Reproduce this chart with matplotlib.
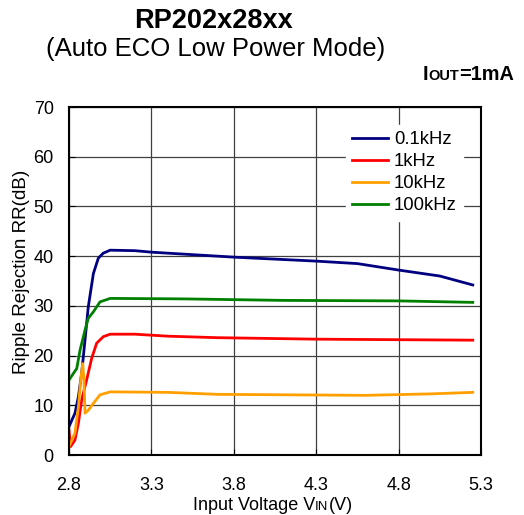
import matplotlib
matplotlib.use('Agg')
import matplotlib.pyplot as plt

plt.rcParams['font.family'] = ['Liberation Sans', 'DejaVu Sans']

# --- data ---
v_01k = [2.80, 2.836, 2.857, 2.877, 2.897, 2.917, 2.948, 2.978, 3.008, 3.05, 3.20,
         3.30, 3.55, 3.80, 4.05, 4.30, 4.55, 4.80, 5.05, 5.25]
rr_01k = [5.7, 8.4, 11.7, 16.5, 23.1, 29.8, 36.5, 39.6, 40.6, 41.2, 41.1,
          40.8, 40.3, 39.8, 39.4, 39.0, 38.5, 37.2, 36.0, 34.2]

v_1k = [2.80, 2.81, 2.836, 2.857, 2.877, 2.907, 2.938, 2.968, 3.008, 3.05, 3.20,
        3.40, 3.70, 4.30, 5.25]
rr_1k = [5.0, 1.7, 3.0, 6.4, 11.1, 15.1, 19.5, 22.5, 23.8, 24.3, 24.3,
         23.9, 23.6, 23.3, 23.1]

v_10k = [2.80, 2.836, 2.857, 2.871, 2.883, 2.891, 2.897, 2.917, 2.948, 2.988, 3.05,
         3.40, 3.70, 4.60, 5.00, 5.25]
rr_10k = [1.7, 4.4, 9.7, 15.1, 18.4, 15.1, 8.4, 9.0, 10.4, 12.1, 12.7,
          12.6, 12.2, 12.0, 12.3, 12.6]

v_100k = [2.80, 2.847, 2.867, 2.897, 2.917, 2.948, 2.988, 3.05, 3.50, 4.10, 4.80, 5.25]
rr_100k = [15.1, 17.4, 21.1, 25.1, 27.5, 28.8, 30.8, 31.5, 31.4, 31.1, 31.0, 30.7]

series = [
    ('0.1kHz', v_01k, rr_01k, '#000080'),
    ('1kHz', v_1k, rr_1k, '#ff0000'),
    ('10kHz', v_10k, rr_10k, '#ffa000'),
    ('100kHz', v_100k, rr_100k, '#008000'),
]

fig = plt.figure(figsize=(5.24, 5.15), dpi=100)
ax = fig.add_axes([69 / 524, 1 - 455 / 515, 412 / 524, 348 / 515])

for label, xs, ys, color in series:
    ax.plot(xs, ys, color=color, lw=2.0, label=label)

ax.set_xlim(2.8, 5.3)
ax.set_ylim(0, 70)
ax.set_xticks([2.8, 3.3, 3.8, 4.3, 4.8, 5.3])
ax.set_yticks(range(0, 71, 10))
ax.tick_params(labelsize=13, direction='in', length=4)
ax.tick_params(axis='x', pad=16)
ax.tick_params(axis='y', pad=11)
ax.grid(True, color='#404040', lw=0.9)
ax.set_axisbelow(True)
for s in ax.spines.values():
    s.set_linewidth(1.5)

leg = ax.legend(loc='upper left', bbox_to_anchor=((346 - 69) / 412, (455 - 125) / 348),
                fontsize=13.3, frameon=True, handlelength=1.95, labelspacing=0.27,
                borderpad=0.35, borderaxespad=0, handletextpad=0.3, fancybox=False)
leg.get_frame().set_edgecolor('white')
leg.get_frame().set_facecolor('white')
leg.get_frame().set_alpha(1)

fig.text(22 / 524, 1 - 272 / 515, 'Ripple Rejection RR(dB)', rotation=90,
         ha='center', va='center', fontsize=13.6)

fig.text(214 / 524, 1 - 21 / 515, 'RP202x28xx', ha='center', va='center',
         fontsize=19.5, fontweight='bold')
fig.text(216 / 524, 1 - 49 / 515, '(Auto ECO Low Power Mode)', ha='center',
         va='center', fontsize=18.5)

renderer = fig.canvas.get_renderer()


def draw_pieces(pieces, x_px, y_px, weight='normal'):
    # draw text parts one after another on the same baseline
    x = x_px
    for txt, size in pieces:
        t = fig.text(x / 524, 1 - y_px / 515, txt, ha='left', va='baseline',
                     fontsize=size, fontweight=weight)
        x = t.get_window_extent(renderer).x1


draw_pieces([('I', 14.3), ('OUT', 10.5), ('=1mA', 14.3)], 423, 80, weight='bold')
draw_pieces([('Input Voltage V', 13), ('IN', 9.5), ('(V)', 13)], 193, 510)

fig.savefig('out.png', dpi=100)
